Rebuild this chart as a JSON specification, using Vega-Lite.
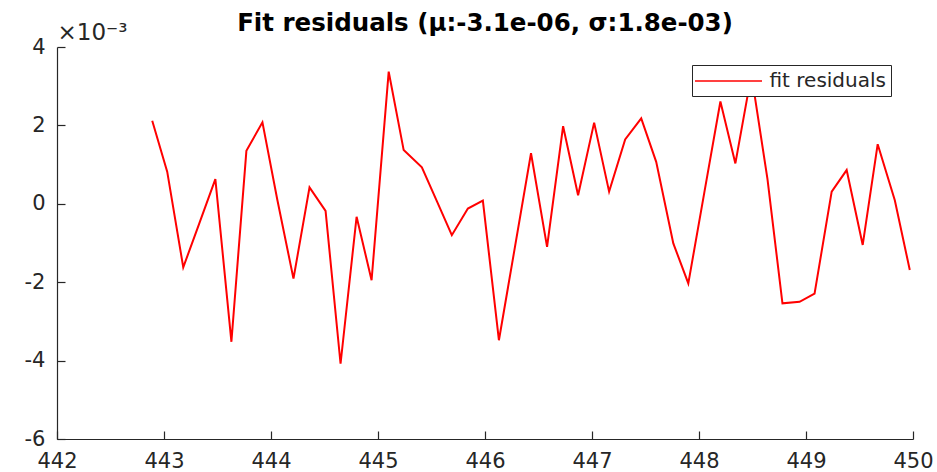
{
  "$schema": "https://vega.github.io/schema/vega-lite/v6.json",
  "width": 856,
  "height": 392,
  "autosize": "none",
  "padding": {"left": 57, "top": 47, "right": 24, "bottom": 33},
  "background": "white",
  "title": {
    "text": "Fit residuals (μ:-3.1e-06, σ:1.8e-03)",
    "font": "DejaVu Sans",
    "fontSize": 24.5,
    "fontWeight": "bold",
    "color": "black",
    "anchor": "middle",
    "frame": "group",
    "baseline": "alphabetic",
    "offset": 14,
    "dy": 48
  },
  "config": {
    "view": {"stroke": null},
    "axis": {
      "grid": false,
      "labelFlush": false,
      "domainColor": "#262626",
      "domainWidth": 1.2,
      "tickColor": "#262626",
      "tickWidth": 1.2,
      "tickSize": -8,
      "labelFont": "DejaVu Sans",
      "labelFontSize": 21,
      "labelColor": "#262626",
      "titleFont": "DejaVu Sans",
      "titleFontWeight": "normal",
      "titleColor": "#262626"
    }
  },
  "data": {
    "values": [
      {"x": 442.89, "residual": 0.00212},
      {"x": 443.03, "residual": 0.00082},
      {"x": 443.18, "residual": -0.00162},
      {"x": 443.33, "residual": -0.00050},
      {"x": 443.48, "residual": 0.00063},
      {"x": 443.63, "residual": -0.00352},
      {"x": 443.77, "residual": 0.00135},
      {"x": 443.92, "residual": 0.00208},
      {"x": 444.06, "residual": 0.00009},
      {"x": 444.21, "residual": -0.00191},
      {"x": 444.36, "residual": 0.00042},
      {"x": 444.51, "residual": -0.00018},
      {"x": 444.65, "residual": -0.00408},
      {"x": 444.80, "residual": -0.00033},
      {"x": 444.94, "residual": -0.00195},
      {"x": 445.10, "residual": 0.00337},
      {"x": 445.24, "residual": 0.00137},
      {"x": 445.41, "residual": 0.00093},
      {"x": 445.55, "residual": 0.00007},
      {"x": 445.69, "residual": -0.00080},
      {"x": 445.84, "residual": -0.00012},
      {"x": 445.98, "residual": 0.00008},
      {"x": 446.13, "residual": -0.00348},
      {"x": 446.28, "residual": -0.00110},
      {"x": 446.43, "residual": 0.00129},
      {"x": 446.58, "residual": -0.00110},
      {"x": 446.73, "residual": 0.00198},
      {"x": 446.87, "residual": 0.00022},
      {"x": 447.02, "residual": 0.00207},
      {"x": 447.16, "residual": 0.00031},
      {"x": 447.31, "residual": 0.00164},
      {"x": 447.46, "residual": 0.00218},
      {"x": 447.60, "residual": 0.00107},
      {"x": 447.76, "residual": -0.00101},
      {"x": 447.90, "residual": -0.00203},
      {"x": 448.05, "residual": 0.00029},
      {"x": 448.20, "residual": 0.00261},
      {"x": 448.34, "residual": 0.00103},
      {"x": 448.49, "residual": 0.00330},
      {"x": 448.64, "residual": 0.00063},
      {"x": 448.78, "residual": -0.00254},
      {"x": 448.94, "residual": -0.00250},
      {"x": 449.08, "residual": -0.00229},
      {"x": 449.24, "residual": 0.00031},
      {"x": 449.38, "residual": 0.00086},
      {"x": 449.53, "residual": -0.00105},
      {"x": 449.67, "residual": 0.00152},
      {"x": 449.83, "residual": 0.00009},
      {"x": 449.97, "residual": -0.00169}
    ]
  },
  "mark": {"type": "line", "strokeWidth": 2, "interpolate": "linear"},
  "encoding": {
    "x": {
      "field": "x",
      "type": "quantitative",
      "scale": {"domain": [442, 450], "nice": false, "zero": false},
      "axis": {
        "values": [442, 443, 444, 445, 446, 447, 448, 449, 450],
        "format": "d",
        "title": null,
        "labelPadding": 19
      }
    },
    "y": {
      "field": "residual",
      "type": "quantitative",
      "scale": {"domain": [-0.006, 0.004], "nice": false, "zero": false},
      "axis": {
        "values": [-0.006, -0.004, -0.002, 0, 0.002, 0.004],
        "labelExpr": "round(datum.value * 1000)",
        "labelPadding": 20,
        "title": "×10⁻³",
        "titleFontSize": 23,
        "titleAngle": 0,
        "titleAlign": "left",
        "titleBaseline": "alphabetic",
        "titleX": 0,
        "titleY": -8
      }
    },
    "color": {
      "datum": "fit residuals",
      "type": "nominal",
      "scale": {"range": ["#ff0000"]},
      "legend": {
        "title": null,
        "orient": "none",
        "legendX": 635,
        "legendY": 18,
        "strokeColor": "#262626",
        "fillColor": "white",
        "padding": 5,
        "symbolType": "M-3.35,0H3.35",
        "symbolSize": 400,
        "symbolOffset": 20.5,
        "symbolStrokeWidth": 1.5,
        "labelFont": "DejaVu Sans",
        "labelFontSize": 20,
        "labelColor": "#262626",
        "labelOffset": 30
      }
    }
  }
}
